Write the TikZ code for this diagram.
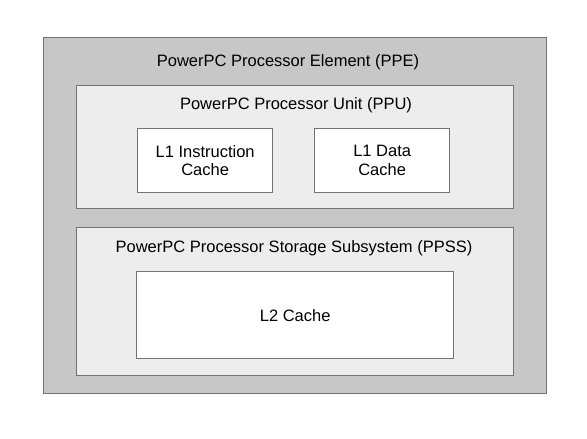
\documentclass[tikz,border=0pt]{standalone}
\usepackage{fontspec}
\setmainfont{Liberation Sans}
\begin{document}
\begin{tikzpicture}[x=1pt, y=-1pt,
    blk/.style={draw=black!55, line width=1.3pt, inner sep=0pt, anchor=north west,
        align=center, font=\fontsize{16.5}{18.5}\selectfont},
    lbl/.style={font=\fontsize{16.5}{18.5}\selectfont, inner sep=0pt}]
    \useasboundingbox[fill=white] (0,0) rectangle (587,439);
    % outer element
    \node[blk, fill=black!22, minimum width=503pt, minimum height=356pt] (ppe) at (43,37) {};
    \node[lbl] (ppelbl) at (288,62) {PowerPC Processor Element (PPE)};
    % processor unit
    \node[blk, fill=black!7, minimum width=437pt, minimum height=123pt] (ppu) at (76,85) {};
    \node[lbl] (ppulbl) at (296,105) {PowerPC Processor Unit (PPU)};
    \node[blk, fill=white, minimum width=135pt, minimum height=64pt] (l1i) at (137,128) {L1 Instruction\\Cache};
    \node[blk, fill=white, minimum width=135pt, minimum height=64pt] (l1d) at (314,128) {L1 Data\\Cache};
    % storage subsystem
    \node[blk, fill=black!7, minimum width=437pt, minimum height=148pt] (ppss) at (76,227) {};
    \node[lbl] (ppsslbl) at (294,248) {PowerPC Processor Storage Subsystem (PPSS)};
    \node[blk, fill=white, minimum width=317pt, minimum height=87pt] (l2) at (136,271) {L2 Cache};
\end{tikzpicture}
\end{document}
